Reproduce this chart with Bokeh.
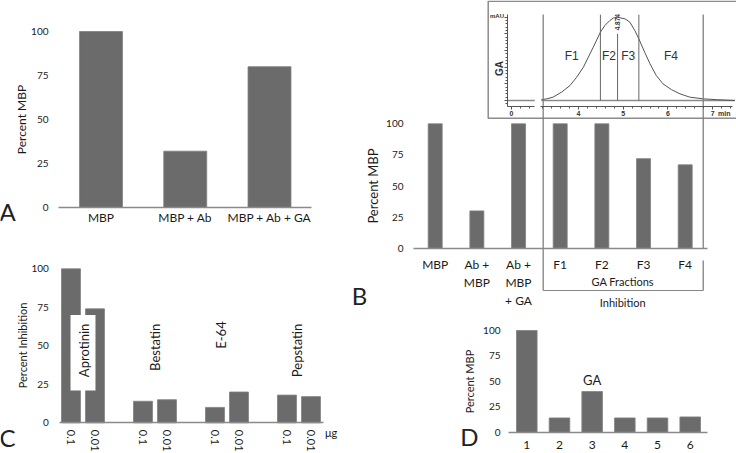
import math
from bokeh.plotting import figure
from bokeh.models import Range1d, LinearAxis, FixedTicker, SingleIntervalTicker
from bokeh.core.properties import value
from bokeh.embed import file_html
from bokeh.resources import INLINE

# ---------------- data ----------------
A_categories = ["MBP", "MBP + Ab", "MBP + Ab + GA"]
A_values = [100, 32, 80]

B_categories = ["MBP", "Ab +\nMBP", "Ab +\nMBP\n+ GA", "F1", "F2", "F3", "F4"]
B_values = [100, 30, 100, 100, 100, 72, 67]
B_group_label = "GA Fractions"
B_bracket_label = "Inhibition"

C_inhibitors = ["Aprotinin", "Bestatin", "E-64", "Pepstatin"]
C_doses = ["0.1", "0.01"]
C_values = [100, 74, 14, 15, 10, 20, 18, 17]
C_unit = "μg"

D_categories = ["1", "2", "3", "4", "5", "6"]
D_values = [100, 14, 40, 14, 14, 15]
D_marked_label = "GA"
D_marked_index = 3

percent_ticks = [0, 25, 50, 75, 100]

# chromatogram of GA (time in min, absorbance in mAU, relative)
GA_time = [3.17, 3.29, 3.43, 3.62, 3.81, 3.96, 4.11, 4.22, 4.33, 4.49, 4.59, 4.70,
           4.78, 4.874, 5.04, 5.15, 5.26, 5.35, 5.48, 5.60, 5.74, 5.89, 6.08, 6.27,
           6.49, 6.79, 7.09, 7.50]
GA_mAU = [1, 2, 4, 10, 18, 28, 40, 52, 64, 82, 90, 96,
          99, 100, 98, 94, 84, 74, 58, 44, 30, 20, 13, 8,
          4, 2, 1, 0]
GA_start_time = [-0.1, 0.52]
GA_start_mAU = [0, 0]
GA_fraction_bounds = [3.21, 4.49, 4.874, 5.35, 6.79]
GA_fraction_names = ["F1", "F2", "F3", "F4"]
GA_peak_time = 4.874
GA_peak_label = "4.874"

# ---------------- styling / layout ----------------
FONT = "Lato"
IFONT = "Liberation Sans"
TXT = "#1a1a1a"
BAR = "#6b6b6b"
BAR_EDGE = "#808080"
AXIS = "#8a8a8a"
REF_W, REF_H = 736, 453
W, H = 736, 453


def rng(v0, p0, v1, p1, lo, hi):
    s = (v1 - v0) / (p1 - p0)
    return Range1d(v0 + (lo - p0) * s, v0 + (hi - p0) * s)


def xr(v0, p0, v1, p1):
    return rng(v0, p0, v1, p1, 0, REF_W)


def yr(v0, p0, v1, p1):
    return rng(v0, p0, v1, p1, REF_H, 0)


p = figure(width=W, height=H, x_range=Range1d(0, REF_W), y_range=Range1d(REF_H, 0),
           output_backend="svg", toolbar_location=None, min_border=0,
           x_axis_type=None, y_axis_type=None, outline_line_color=None,
           background_fill_color="white", border_fill_color="white")

p.extra_x_ranges = {
    "xA": xr(1, 100.5, 3, 269), "xB": xr(1, 434.7, 7, 684.7),
    "xC": xr(1, 70.5, 11, 310.5), "xD": xr(1, 526.3, 6, 689.7),
    "xI": xr(5, 622.7, 6, 667.4), "xI0": xr(0, 511, 1, 555.7),
}
p.extra_y_ranges = {
    "yA": yr(0, 207, 100, 31), "yB": yr(0, 247.7, 100, 123.3),
    "yC": yr(0, 422.3, 100, 268.3), "yD": yr(0, 431.7, 100, 330),
    "yI": yr(0, 100, 100, 16.7),
}


def percent_axis(yname, loc, label, label_size, standoff):
    ax = LinearAxis(y_range_name=yname, fixed_location=loc, bounds=(0, 100),
                    ticker=FixedTicker(ticks=percent_ticks),
                    axis_line_color=None, major_tick_line_color=None, minor_tick_line_color=None,
                    major_tick_out=0, major_tick_in=0, minor_tick_out=0, minor_tick_in=0,
                    major_label_standoff=0,
                    major_label_text_font=FONT, major_label_text_font_size="10px",
                    major_label_text_color=TXT,
                    axis_label=label, axis_label_text_font=FONT,
                    axis_label_text_font_size=label_size, axis_label_text_font_style="normal",
                    axis_label_text_color=TXT, axis_label_standoff=standoff)
    p.add_layout(ax, "left")


def cat_axis(xname, yname, bounds, ticks, labels, size, standoff, orientation="horizontal"):
    ax = LinearAxis(x_range_name=xname, y_range_name=yname, fixed_location=0, bounds=bounds,
                    ticker=FixedTicker(ticks=ticks),
                    major_label_overrides={t: l for t, l in zip(ticks, labels)},
                    axis_line_color=AXIS, axis_line_width=1.3,
                    major_tick_line_color=None, minor_tick_line_color=None,
                    major_tick_out=0, major_tick_in=0, minor_tick_out=0, minor_tick_in=0,
                    major_label_standoff=standoff, major_label_orientation=orientation,
                    major_label_text_font=FONT, major_label_text_font_size=size,
                    major_label_text_color=TXT)
    p.add_layout(ax, "below")


def bars(xname, yname, xs, vals, width):
    p.vbar(x=xs, top=vals, bottom=0, width=width, x_range_name=xname, y_range_name=yname,
           fill_color=BAR, line_color=BAR_EDGE, line_width=0.8)


# ---------------- panel A ----------------
A_x = list(range(1, len(A_values) + 1))
bars("xA", "yA", A_x, A_values, 0.51)
percent_axis("yA", 48, "Percent MBP", "12px", -1)
cat_axis("xA", "yA", (0.5, 3.5), A_x, A_categories, "12px", 2)

# ---------------- panel B ----------------
B_x = list(range(1, len(B_values) + 1))
bars("xB", "yB", B_x, B_values, 0.336)
percent_axis("yB", 403, "Percent MBP", "13px", 2)
cat_axis("xB", "yB", (0.48, 7.53), B_x, B_categories, "12px", 9)
B_mid = (B_x[3] + B_x[6]) / 2
p.text(x=[B_mid], y=[280.7], text=[B_group_label], x_range_name="xB",
       text_font=value(FONT), text_font_size="11px", text_color=TXT,
       text_align="center", text_baseline="middle")
p.text(x=[B_mid], y=[301.7], text=[B_bracket_label], x_range_name="xB",
       text_font=value(FONT), text_font_size="11px", text_color=TXT,
       text_align="center", text_baseline="middle")

# ---------------- panel C ----------------
C_x = [3 * g + k + 1 for g in range(len(C_inhibitors)) for k in range(len(C_doses))]
bars("xC", "yC", C_x, C_values, 0.79)
percent_axis("yC", 48.3, "Percent Inhibition", "11px", -1)
cat_axis("xC", "yC", (0.5, 11.5), C_x, C_doses * len(C_inhibitors), "11px", 7, "vertical")
# white box behind the Aprotinin label
p.quad(left=[0.98], right=[2.02], bottom=[21], top=[70], x_range_name="xC", y_range_name="yC",
       fill_color="white", line_color=None)
C_label_x = [1.55, 4.5, 7.23, 10.43]
C_label_y = [47, 49, 57, 47]
p.text(x=C_label_x, y=C_label_y, text=C_inhibitors, angle=math.pi / 2,
       x_range_name="xC", y_range_name="yC", text_font=value(FONT), text_font_size="13px",
       text_color=TXT, text_align="center", text_baseline="middle")
p.text(x=[C_x[-1]], y=[0], text=[C_unit], x_offset=14, y_offset=10,
       x_range_name="xC", y_range_name="yC", text_font=value(FONT), text_font_size="11px",
       text_color=TXT, text_align="left", text_baseline="middle")

# ---------------- panel D ----------------
D_x = list(range(1, len(D_values) + 1))
bars("xD", "yD", D_x, D_values, 0.63)
percent_axis("yD", 500, "Percent MBP", "11px", 4)
cat_axis("xD", "yD", (0.45, 6.52), D_x, D_categories, "12px", 9)
p.text(x=[D_marked_index], y=[D_values[D_marked_index - 1]], text=[D_marked_label],
       y_offset=-12, x_range_name="xD", y_range_name="yD", text_font=value(FONT),
       text_font_size="13px", text_color=TXT, text_align="center", text_baseline="middle")

# ---------------- inset chromatogram ----------------
p.quad(left=[487.7], right=[737], top=[0.7], bottom=[117.7], fill_color="white",
       line_color="#8c8c8c", line_width=1.5)
iy = LinearAxis(y_range_name="yI", fixed_location=506.7, bounds=(-7.2, 103),
                ticker=SingleIntervalTicker(interval=20, num_minor_ticks=5),
                axis_line_color="#555555", axis_line_width=1,
                major_tick_line_color="#555555", minor_tick_line_color="#555555",
                major_tick_out=3, major_tick_in=0, minor_tick_out=2, minor_tick_in=0,
                major_label_text_color=None)
p.add_layout(iy, "left")
for name, bnds in (("xI0", (-0.1, 0.52)), ("xI", (3.15, 7.45))):
    ix = LinearAxis(x_range_name=name, fixed_location=106, bounds=bnds,
                    ticker=SingleIntervalTicker(interval=1, num_minor_ticks=5),
                    axis_line_color="#555555", axis_line_width=1,
                    major_tick_line_color="#555555", minor_tick_line_color="#555555",
                    major_tick_out=3, major_tick_in=0, minor_tick_out=2, minor_tick_in=0,
                    major_label_standoff=1, major_label_text_font=IFONT,
                    major_label_text_font_size="7px", major_label_text_font_style="bold",
                    major_label_text_color="#333333")
    p.add_layout(ix, "below")
p.text(x=[7.12], y=[106], y_offset=7, text=["min"], x_range_name="xI",
       text_font=value(IFONT), text_font_size="7px", text_font_style="bold",
       text_color="#333333", text_align="left", text_baseline="middle")
p.text(x=[496.5], y=[15], text=["mAU"], text_font=value(IFONT), text_font_size="6px",
       text_font_style="bold", text_color="#333333", text_align="center", text_baseline="middle")
p.text(x=[499.3], y=[68], text=["GA"], angle=math.pi / 2, text_font=value(IFONT),
       text_font_size="10px", text_font_style="bold", text_color="#333333",
       text_align="center", text_baseline="middle")

# baselines and trace
p.line(GA_start_time, GA_start_mAU, x_range_name="xI0", y_range_name="yI",
       line_color="#8a8a8a", line_width=1.3)
p.line([GA_time[0], GA_time[-1]], [0, 0], x_range_name="xI", y_range_name="yI",
       line_color="#8a8a8a", line_width=1.3)
p.line(GA_time, GA_mAU, x_range_name="xI", y_range_name="yI",
       line_color="#555555", line_width=1)

# fraction boundaries
inner = [b for b in GA_fraction_bounds[1:-1] if b != GA_peak_time]
p.segment(x0=inner, x1=inner, y0=[103] * len(inner), y1=[0] * len(inner),
          x_range_name="xI", y_range_name="yI", line_color="#666666", line_width=1)
p.segment(x0=[GA_peak_time], x1=[GA_peak_time], y0=[80], y1=[0],
          x_range_name="xI", y_range_name="yI", line_color="#666666", line_width=1)
p.text(x=[GA_peak_time], y=[21.7], text=[GA_peak_label], angle=math.pi / 2, x_range_name="xI",
       text_font=value(IFONT), text_font_size="6.5px", text_font_style="bold",
       text_color="#333333", text_align="center", text_baseline="middle")
f_mid = [(GA_fraction_bounds[i] + GA_fraction_bounds[i + 1]) / 2 for i in range(4)]
p.text(x=f_mid, y=[54] * 4, text=GA_fraction_names, x_range_name="xI", y_range_name="yI",
       text_font=value(IFONT), text_font_size="12px", text_color="#333333",
       text_align="center", text_baseline="middle")

# outer boundaries running down into panel B, with the bracket
lo, hi = GA_fraction_bounds[0], GA_fraction_bounds[-1]
p.segment(x0=[lo, hi, hi], x1=[lo, hi, hi], y0=[14, 14, 260], y1=[290, 247.7, 290],
          x_range_name="xI", line_color="#777777", line_width=1.2)
p.segment(x0=[lo], x1=[hi], y0=[290], y1=[290], x_range_name="xI",
          line_color="#888888", line_width=1.2)

# panel letters
p.text(x=[7, 359, 7, 469], y=[211, 295, 437, 436], text=["A", "B", "C", "D"],
       text_font=value(FONT), text_font_size="24px", text_color="#222222",
       text_align="center", text_baseline="middle")

open("out.html", "w").write(file_html(p, INLINE))
